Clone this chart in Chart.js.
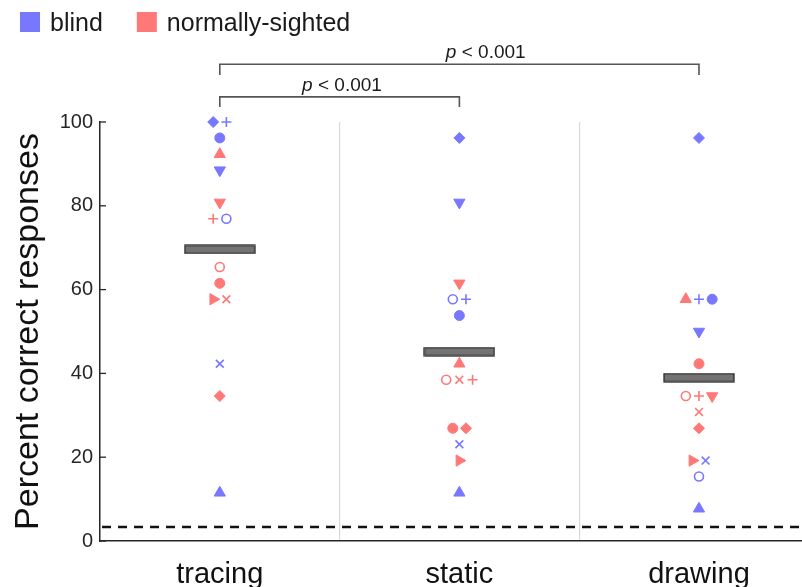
<!DOCTYPE html>
<html>
<head>
<meta charset="utf-8">
<script src="https://cdn.jsdelivr.net/npm/chart.js@4.4.1/dist/chart.umd.min.js"></script>
<style>
  html, body { margin: 0; padding: 0; background: #fff; overflow: hidden; }
  canvas { display: block; }
</style>
</head>
<body>
<canvas id="chart" width="802" height="587"></canvas>
<script>
const conditions = ['tracing', 'static', 'drawing'];
const yTicks = [0, 20, 40, 60, 80, 100];

// one value per participant, same participant order in every condition
const blindTracing = [100, 76.9, 100, 96.2, 42.3, 88.5, 11.5];
const blindStatic  = [96.2, 57.7, 57.7, 53.8, 23.1, 80.8, 11.5];
const blindDrawing = [96.2, 15.4, 57.7, 57.7, 19.2, 50.0, 7.7];

const sightedTracing = [57.7, 92.3, 65.4, 61.5, 34.6, 57.7, 76.9, 80.8];
const sightedStatic  = [19.2, 42.3, 38.5, 26.9, 26.9, 38.5, 38.5, 61.5];
const sightedDrawing = [19.2, 57.7, 34.6, 42.3, 26.9, 30.8, 34.6, 34.6];

const means = [69.6, 45.2, 39.0];
const chanceLevel = 3.33;

const brackets = [
  { from: 1, to: 2, label: 'p < 0.001', textAt: 1.51 },
  { from: 1, to: 3, label: 'p < 0.001', textAt: 2.11 }
];

const BLUE = '#7878ff';
const PINK = '#ff7878';
const INK = '#262626';
const FONT = "'Liberation Sans', Arial, sans-serif";

// marker per participant
const blindMarkers = ['diamond', 'circleOpen', 'plus', 'circle', 'x', 'triDown', 'triUp'];
const sightedMarkers = ['triRight', 'triUp', 'circleOpen', 'circle', 'diamond', 'x', 'plus', 'triDown'];

const MARKERS = {
  circle:     { style: 'circle', r: 5 },
  circleOpen: { style: 'circle', r: 4.5, open: true, bw: 1.6 },
  plus:       { style: 'cross', r: 5, bw: 1.6 },
  x:          { style: 'crossRot', r: 5.5, bw: 1.6 },
  triUp:      { style: 'triangle', r: 6.5, rot: 0 },
  triDown:    { style: 'triangle', r: 6.5, rot: 180 },
  triRight:   { style: 'triangle', r: 6.5, rot: 90 },
  diamond:    { style: 'rectRot', r: 5.5 }
};

// spread points with identical values side by side
const DODGE = 0.055;
function dodged(c, sightedVals, blindVals) {
  const all = sightedVals.map(v => ({ v, g: 's' })).concat(blindVals.map(v => ({ v, g: 'b' })));
  return all.map((p, i) => {
    const n = all.filter(q => q.v === p.v).length;
    const rank = all.slice(0, i).filter(q => q.v === p.v).length;
    return { g: p.g, x: c + 1 + (rank - (n - 1) / 2) * DODGE, y: p.v };
  });
}

const blindCols = [blindTracing, blindStatic, blindDrawing];
const sightedCols = [sightedTracing, sightedStatic, sightedDrawing];
const blindPts = [];
const sightedPts = [];
conditions.forEach((name, c) => {
  dodged(c, sightedCols[c], blindCols[c]).forEach(p => {
    (p.g === 'b' ? blindPts : sightedPts).push({ x: p.x, y: p.y });
  });
});

function markerDataset(label, pts, markers, color) {
  const spec = i => MARKERS[markers[i % markers.length]];
  return {
    type: 'scatter',
    label: label,
    data: pts,
    pointStyle: ctx => spec(ctx.dataIndex).style,
    pointRotation: ctx => spec(ctx.dataIndex).rot || 0,
    pointRadius: ctx => spec(ctx.dataIndex).r,
    pointBackgroundColor: ctx => spec(ctx.dataIndex).open ? '#ffffff' : color,
    pointBorderColor: color,
    pointBorderWidth: ctx => spec(ctx.dataIndex).bw || 1,
    clip: false,
    order: 1
  };
}

// mean bar drawn as a point image
const barImg = document.createElement('canvas');
barImg.width = 72;
barImg.height = 10;
const bctx = barImg.getContext('2d');
bctx.fillStyle = '#737373';
bctx.strokeStyle = '#2a2a2a';
bctx.lineWidth = 1.3;
bctx.fillRect(1, 1, 70, 8);
bctx.strokeRect(1, 1, 70, 8);

const extras = {
  id: 'extras',
  beforeDatasetsDraw(chart) {
    const { ctx, chartArea, scales } = chart;
    const y = scales.y;
    ctx.save();
    // chance level
    ctx.strokeStyle = '#111';
    ctx.lineWidth = 2.5;
    ctx.setLineDash([9, 7]);
    ctx.beginPath();
    ctx.moveTo(chartArea.left + 2, y.getPixelForValue(chanceLevel));
    ctx.lineTo(chartArea.right, y.getPixelForValue(chanceLevel));
    ctx.stroke();
    ctx.setLineDash([]);
    // inward y ticks
    ctx.strokeStyle = INK;
    ctx.lineWidth = 1.3;
    yTicks.forEach(v => {
      const py = y.getPixelForValue(v);
      ctx.beginPath();
      ctx.moveTo(chartArea.left, py);
      ctx.lineTo(chartArea.left + 6, py);
      ctx.stroke();
    });
    ctx.restore();
  },
  afterDraw(chart) {
    const { ctx, scales } = chart;
    const x = scales.x, y = scales.y;
    ctx.save();
    // significance brackets
    const levels = [[106, 103.6], [113.8, 111.2]];
    brackets.forEach((b, i) => {
      const top = y.getPixelForValue(levels[i][0]);
      const foot = y.getPixelForValue(levels[i][1]);
      const x1 = x.getPixelForValue(b.from), x2 = x.getPixelForValue(b.to);
      ctx.strokeStyle = '#555';
      ctx.lineWidth = 1.6;
      ctx.beginPath();
      ctx.moveTo(x1, foot);
      ctx.lineTo(x1, top);
      ctx.lineTo(x2, top);
      ctx.lineTo(x2, foot);
      ctx.stroke();
      // label with italic p
      const cx = x.getPixelForValue(b.textAt);
      const ty = top - 6;
      ctx.fillStyle = '#1a1a1a';
      ctx.textBaseline = 'alphabetic';
      ctx.font = 'italic 19px ' + FONT;
      const pW = ctx.measureText('p').width;
      ctx.font = '19px ' + FONT;
      const rest = b.label.slice(1);
      const rW = ctx.measureText(rest).width;
      const sx = cx - (pW + rW) / 2;
      ctx.font = 'italic 19px ' + FONT;
      ctx.textAlign = 'left';
      ctx.fillText('p', sx, ty);
      ctx.font = '19px ' + FONT;
      ctx.fillText(rest, sx + pW, ty);
    });
    // legend
    const items = [['blind', BLUE], ['normally-sighted', PINK]];
    let lx = 20;
    ctx.font = '25px ' + FONT;
    ctx.textAlign = 'left';
    items.forEach(([txt, col]) => {
      ctx.fillStyle = col;
      ctx.fillRect(lx, 12, 20, 20);
      ctx.fillStyle = '#1a1a1a';
      ctx.fillText(txt, lx + 30, 31);
      lx += 30 + ctx.measureText(txt).width + 34;
    });
    ctx.restore();
  }
};

new Chart(document.getElementById('chart'), {
  data: {
    datasets: [
      markerDataset('blind', blindPts, blindMarkers, BLUE),
      markerDataset('normally-sighted', sightedPts, sightedMarkers, PINK),
      {
        type: 'scatter',
        label: 'mean',
        data: means.map((m, c) => ({ x: c + 1, y: m })),
        pointStyle: barImg,
        pointRadius: 10,
        order: 5
      }
    ]
  },
  options: {
    responsive: false,
    animation: false,
    events: [],
    layout: { autoPadding: false, padding: { top: 122, right: 0, bottom: 0, left: 0 } },
    plugins: {
      legend: { display: false },
      tooltip: { enabled: false }
    },
    scales: {
      x: {
        type: 'linear',
        min: 0.5,
        max: 3.43,
        afterFit: s => { s.height = 46; s.paddingLeft = 0; s.paddingRight = 0; },
        afterBuildTicks: s => { s.ticks = [1, 1.5, 2, 2.5, 3].map(v => ({ value: v })); },
        ticks: {
          autoSkip: false,
          maxRotation: 0,
          padding: 17,
          color: '#111',
          font: { family: FONT, size: 29 },
          callback: v => Number.isInteger(v) ? conditions[v - 1] : ''
        },
        grid: {
          drawTicks: false,
          color: ctx => (ctx.tick && ctx.tick.value % 1 !== 0) ? '#d9d9d9' : 'rgba(0,0,0,0)',
          lineWidth: 1.2
        },
        border: { display: true, color: INK, width: 1.5 }
      },
      y: {
        min: 0,
        max: 100,
        afterFit: s => { s.width = 100; },
        afterBuildTicks: s => { s.ticks = yTicks.map(v => ({ value: v })); },
        ticks: {
          padding: 7,
          color: INK,
          font: { family: FONT, size: 20 }
        },
        grid: { display: false, drawTicks: false },
        border: { display: true, color: INK, width: 1.5 },
        title: {
          display: true,
          text: 'Percent correct responses',
          color: '#111',
          font: { family: FONT, size: 34 },
          padding: { top: 8, bottom: 0 }
        }
      }
    }
  },
  plugins: [extras]
});
</script>
</body>
</html>
